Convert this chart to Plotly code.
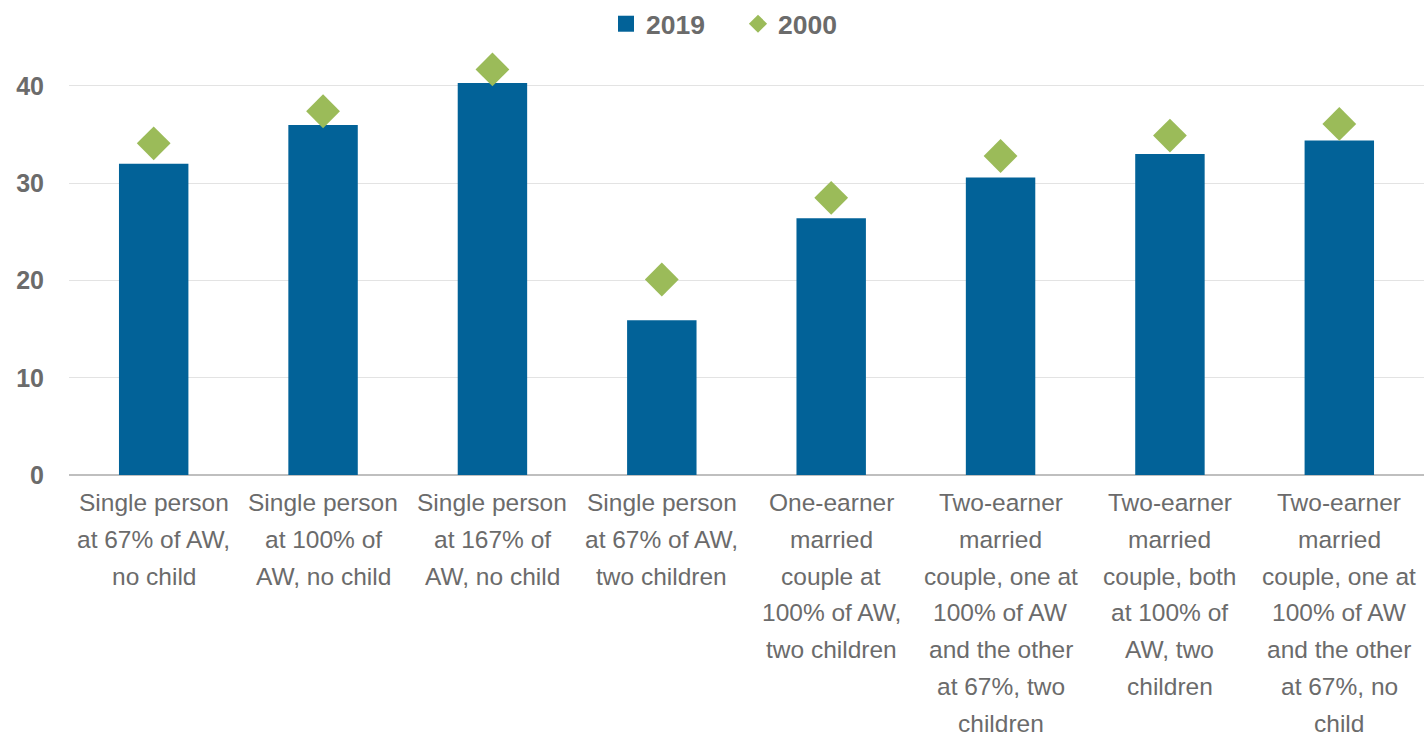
import plotly.graph_objects as go

categories = [
    "Single person<br>at 67% of AW,<br>no child",
    "Single person<br>at 100% of<br>AW, no child",
    "Single person<br>at 167% of<br>AW, no child",
    "Single person<br>at 67% of AW,<br>two children",
    "One-earner<br>married<br>couple at<br>100% of AW,<br>two children",
    "Two-earner<br>married<br>couple, one at<br>100% of AW<br>and the other<br>at 67%, two<br>children",
    "Two-earner<br>married<br>couple, both<br>at 100% of<br>AW, two<br>children",
    "Two-earner<br>married<br>couple, one at<br>100% of AW<br>and the other<br>at 67%, no<br>child",
]
values_2019 = [32.0, 36.0, 40.3, 15.9, 26.4, 30.6, 33.0, 34.4]
values_2000 = [34.1, 37.4, 41.7, 20.1, 28.5, 32.8, 34.9, 36.1]
y_ticks = [0, 10, 20, 30, 40]

TEXT = "#6b6b6b"
FONT = "Liberation Sans, Arial, sans-serif"
BLUE = "#026298"
GREEN = "#9bbb59"

xs = list(range(len(categories)))
fig = go.Figure()
fig.add_trace(go.Bar(
    x=xs, y=values_2019, name="2019", showlegend=False,
    marker=dict(color=BLUE, line=dict(width=0)), width=0.41,
))
fig.add_trace(go.Scatter(
    x=xs, y=values_2000, name="2000", mode="markers", showlegend=False,
    marker=dict(symbol="diamond", size=26, color=GREEN),
))
# legend entries
fig.add_trace(go.Scatter(x=[None], y=[None], name="2019", mode="markers",
                         marker=dict(symbol="square", size=17, color=BLUE)))
fig.add_trace(go.Scatter(x=[None], y=[None], name="2000", mode="markers",
                         marker=dict(symbol="diamond", size=14, color=GREEN)))

annotations = []
for i, cat in enumerate(categories):
    for j, line in enumerate(cat.split("<br>")):
        annotations.append(dict(
            x=i, xref="x", y=0, yref="paper", yanchor="middle", xanchor="center",
            yshift=-(27.5 + j * 36.8), text=line, showarrow=False,
            font=dict(family=FONT, size=24.5, color=TEXT),
        ))

fig.update_layout(
    width=1426, height=737,
    margin=dict(l=69, r=2, t=50, b=262),
    plot_bgcolor="white", paper_bgcolor="white",
    font=dict(family=FONT, color=TEXT),
    showlegend=True,
    legend=dict(orientation="h", x=(606 - 69) / 1355, xanchor="left",
                y=1.0, yanchor="top", yref="container",
                font=dict(family=FONT, size=26.5, color=TEXT, weight="bold"),
                entrywidth=87, entrywidthmode="pixels", tracegroupgap=0),
    annotations=annotations,
    xaxis=dict(range=[-0.5, len(categories) - 0.5], showticklabels=False,
               showgrid=False, zeroline=False, showline=False, ticks=""),
    yaxis=dict(range=[0, 43.7], tickvals=y_ticks, showgrid=True, gridcolor="#e3e3e3",
               gridwidth=1.3, zeroline=True, zerolinecolor="#bfbfbf", zerolinewidth=1.5,
               showline=False, ticks="", ticklabelstandoff=24,
               tickfont=dict(family=FONT, size=25, color=TEXT, weight="bold")),
)

fig.write_html("out.html")
